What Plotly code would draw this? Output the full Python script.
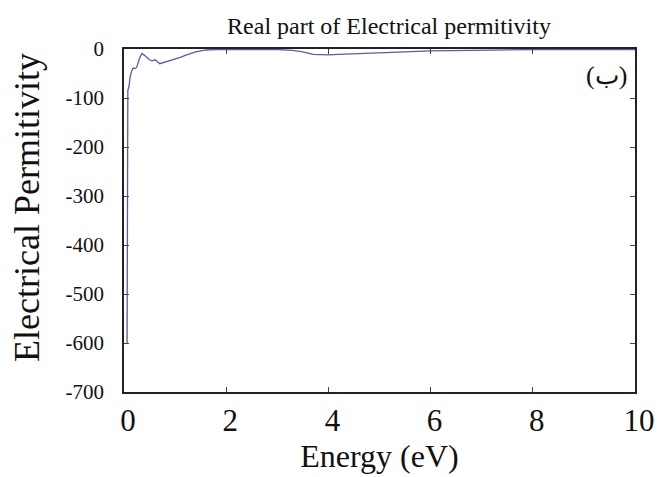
import plotly.graph_objects as go

# Real part of the dielectric function vs photon energy
energy_ev = [0.06, 0.075, 0.10, 0.12, 0.15, 0.18, 0.22, 0.25, 0.30, 0.35, 0.40,
             0.45, 0.50, 0.55, 0.61, 0.70, 0.80, 0.90, 1.0, 1.1, 1.2, 1.3, 1.4,
             1.5, 1.6, 1.8, 2.0, 2.3, 2.6, 3.0, 3.3, 3.5, 3.7, 3.9, 4.0, 4.2,
             4.4, 4.7, 5.0, 5.5, 6.0, 6.5, 7.0, 7.5, 8.0, 9.0, 10.0]
eps_real = [-600, -85, -75, -57, -45, -39, -40, -37, -20, -9, -13,
            -18, -22, -24, -22, -30, -27, -24, -20, -17, -13, -9, -6,
            -4, -2, -1, -1, -0.5, -1, -1, -3, -6, -11, -12, -12, -11,
            -10, -9, -8, -6, -4, -3, -2, -2, -1, -1, -1]

x_ticks = [0, 2, 4, 6, 8, 10]
y_ticks = [0, -100, -200, -300, -400, -500, -600, -700]

SERIF = "Liberation Serif"
INK = "#111111"

fig = go.Figure()
fig.add_trace(go.Scatter(
    x=energy_ev, y=eps_real, mode="lines",
    line=dict(color="#5c5ca3", width=1.3),
    showlegend=False,
))

axis_common = dict(
    showline=True, linecolor="#222222", linewidth=1.5, mirror="ticks",
    ticks="inside", ticklen=5, tickwidth=1, tickcolor="#444444",
    showgrid=False, zeroline=False, automargin=False,
)

fig.update_layout(
    width=657, height=477,
    margin=dict(l=124, r=22, t=49, b=85),
    paper_bgcolor="white", plot_bgcolor="white",
    font=dict(family=SERIF, color=INK),
    title=dict(text="Real part of Electrical permitivity",
               x=389 / 657, xref="container", xanchor="center",
               y=1 - 26 / 477, yref="container", yanchor="middle",
               font=dict(family=SERIF, size=24, color=INK)),
    xaxis=dict(range=[0, 10], tickvals=x_ticks,
               ticktext=[str(v) for v in x_ticks],
               tickfont=dict(family=SERIF, size=31, color=INK),
               ticklabelshift=4,
               title=dict(text="Energy (eV)", standoff=8,
                          font=dict(family=SERIF, size=32, color=INK)),
               **axis_common),
    yaxis=dict(range=[-700, 0], tickvals=y_ticks,
               ticktext=[str(v) for v in y_ticks],
               tickfont=dict(family=SERIF, size=21, color=INK),
               ticklabelstandoff=14,
               **axis_common),
)

# vertical y-axis title
fig.add_annotation(
    text="Electrical Permitivity", textangle=-90,
    xref="paper", yref="paper",
    x=-(124 - 27) / 511, y=(392 - 208) / 343,
    xanchor="center", yanchor="middle", showarrow=False,
    font=dict(family=SERIF, size=36, color=INK),
)

# panel label
fig.add_annotation(
    text="(ب)", xref="paper", yref="paper",
    x=1 - 29 / 511, y=1 - 26 / 343, xanchor="center", yanchor="middle",
    showarrow=False, font=dict(family=SERIF, size=26, color=INK),
)

fig.write_html("out.html")
